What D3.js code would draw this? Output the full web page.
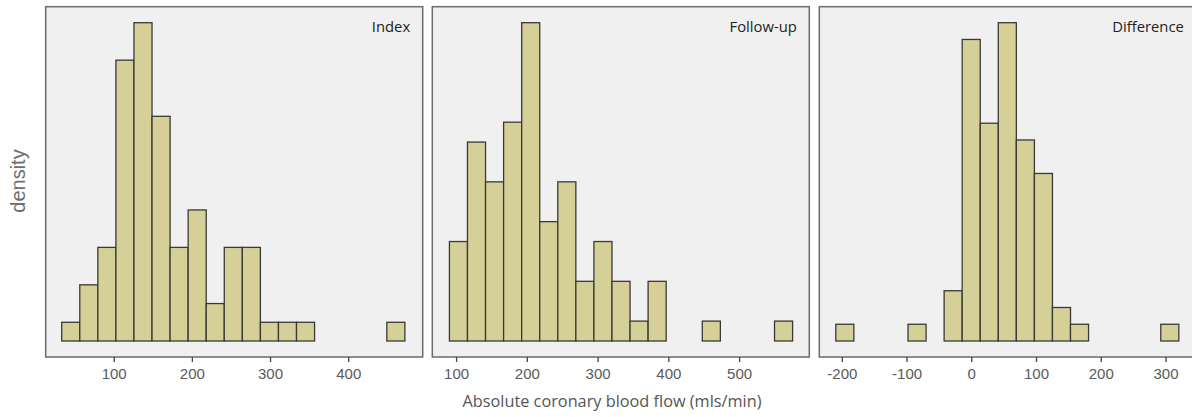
<!DOCTYPE html>
<html>
<head>
<meta charset="utf-8">
<script src="https://cdn.jsdelivr.net/npm/d3@7"></script>
<style>
  body { margin: 0; background: #fff; }
  svg { display: block; }
</style>
</head>
<body>
<script>
// histogram counts per panel, 19 equal bins over binRange
var panelNames = ["Index", "Follow-up", "Difference"];
var indexCounts = [1, 3, 5, 15, 17, 12, 5, 7, 2, 5, 5, 1, 1, 1, 0, 0, 0, 0, 1];
var followCounts = [5, 10, 8, 11, 16, 6, 8, 3, 5, 3, 1, 3, 0, 0, 1, 0, 0, 0, 1];
var diffCounts = [1, 0, 0, 0, 1, 0, 3, 18, 13, 19, 12, 10, 2, 1, 0, 0, 0, 0, 1];
var indexRange = [33.5, 472.5];
var followRange = [90.6, 575.6];
var diffRange = [-209.3, 320.6];
var indexDomain = [13, 495.3];
var followDomain = [66.4, 599.2];
var diffDomain = [-234.8, 347.6];
var indexTicks = [100, 200, 300, 400];
var followTicks = [100, 200, 300, 400, 500];
var diffTicks = [-200, -100, 0, 100, 200, 300];

var panels = [
  { name: panelNames[0], counts: indexCounts, range: indexRange, domain: indexDomain, ticks: indexTicks },
  { name: panelNames[1], counts: followCounts, range: followRange, domain: followDomain, ticks: followTicks },
  { name: panelNames[2], counts: diffCounts, range: diffRange, domain: diffDomain, ticks: diffTicks }
];

var W = 1192, H = 417;
var panelLeft = [45.7, 432.3, 819.3];
var panelW = 377;
var frameTop = 6.7, frameBottom = 357;

var svg = d3.select("body").append("svg")
  .attr("width", W).attr("height", H);

panels.forEach(function (p, k) {
  var n = d3.sum(p.counts);
  var bw = (p.range[1] - p.range[0]) / p.counts.length;
  var bins = p.counts.map(function (c, i) {
    return { x0: p.range[0] + i * bw, x1: p.range[0] + (i + 1) * bw, d: c / (n * bw) };
  });

  var x = d3.scaleLinear().domain(p.domain).range([panelLeft[k], panelLeft[k] + panelW]);
  var y = d3.scaleLinear().domain([0, d3.max(bins, b => b.d)]).range([341, 22.7]);

  var g = svg.append("g");

  g.append("rect")
    .attr("x", panelLeft[k]).attr("y", frameTop)
    .attr("width", panelW).attr("height", frameBottom - frameTop)
    .attr("fill", "#f0f0f0")
    .attr("stroke", "#6b6b6b")
    .attr("stroke-width", 1.5);

  g.selectAll(".bar").data(bins).enter().append("rect")
    .attr("class", "bar")
    .attr("x", b => x(b.x0))
    .attr("width", b => x(b.x1) - x(b.x0))
    .attr("y", b => y(b.d))
    .attr("height", b => y(0) - y(b.d))
    .attr("fill", "#d4d098")
    .attr("stroke", "#3a3a35")
    .attr("stroke-width", 1.3);

  g.append("text")
    .attr("x", panelLeft[k] + panelW - 12.5)
    .attr("y", 32)
    .attr("text-anchor", "end")
    .attr("font-family", "Open Sans")
    .attr("font-size", 14.8)
    .attr("fill", "#222")
    .text(p.name);

  var ax = g.append("g")
    .attr("transform", "translate(0," + frameBottom + ")")
    .call(d3.axisBottom(x).tickValues(p.ticks).tickFormat(d => String(d))
      .tickSize(5).tickPadding(6).tickSizeOuter(0));
  ax.select(".domain").remove();
  ax.selectAll(".tick line").attr("stroke", "#444").attr("stroke-width", 1.3);
  ax.selectAll(".tick text")
    .attr("font-family", "Liberation Sans")
    .attr("font-size", 15)
    .attr("fill", "#5a5a5a");
});

svg.append("text")
  .attr("transform", "translate(25,181) rotate(-90)")
  .attr("text-anchor", "middle")
  .attr("font-family", "Liberation Sans")
  .attr("font-size", 20)
  .attr("fill", "#6e6e6e")
  .text("density");

svg.append("text")
  .attr("x", 612)
  .attr("y", 407)
  .attr("text-anchor", "middle")
  .attr("font-family", "Open Sans")
  .attr("font-size", 16.3)
  .attr("fill", "#555")
  .text("Absolute coronary blood flow (mls/min)");
</script>
</body>
</html>
